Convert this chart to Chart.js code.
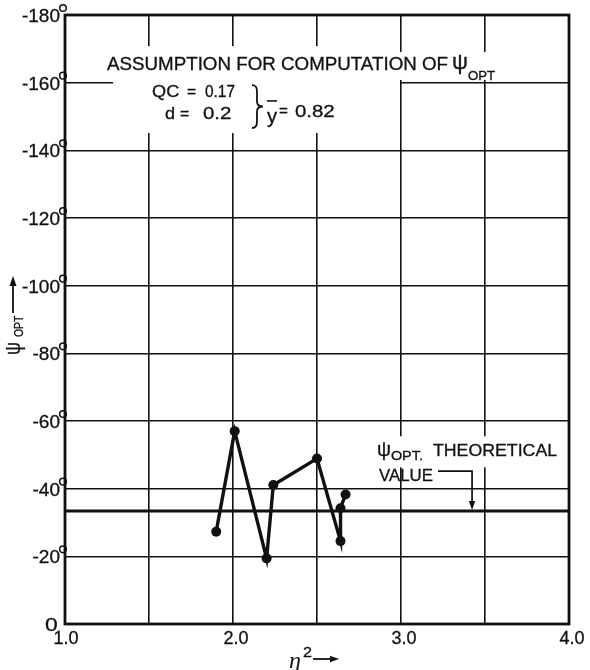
<!DOCTYPE html>
<html>
<head>
<meta charset="utf-8">
<script src="https://cdn.jsdelivr.net/npm/chart.js@4"></script>
<style>
  html, body { margin: 0; background: #fff; }
  canvas { display: block; }
</style>
</head>
<body>
<canvas id="psiChart" width="590" height="670"></canvas>
<script>
// measured points, eta^2 vs psi_opt (degrees)
const ETA_SQ  = [1.90, 2.01, 2.20, 2.24, 2.50, 2.64, 2.64, 2.67];
const PSI_OPT = [-27.3, -57.0, -19.4, -41.1, -48.9, -24.5, -34.2, -38.3];
// theoretical value of psi_opt
const PSI_THEORY = -33.4;

const X_TICKS = [1, 2, 3, 4];
const X_TICK_LABELS = ['1.0', '2.0', '3.0', '4.0'];
const Y_TICKS = [0, -20, -40, -60, -80, -100, -120, -140, -160, -180];

const FONT = '"Liberation Sans", Arial, sans-serif';
const INK = '#111';

// draw text so that its caps are centred on y; w is the wanted width,
// the glyphs get stretched or squeezed a little towards it
function txt(ctx, s, x, y, w, size, family) {
  ctx.font = size + 'px ' + (family || FONT);
  const m = ctx.measureText(s).width;
  let k = w ? w / m : 1;
  k = Math.min(1.2, Math.max(0.8, k));
  ctx.save();
  ctx.translate(x, y + size * 0.36);
  ctx.scale(k, 1);
  ctx.lineWidth = 0.3;
  ctx.fillText(s, 0, 0);
  ctx.strokeText(s, 0, 0);
  ctx.restore();
}

function arrowHead(ctx, x, y, dir, len, half) {
  // dir: angle in radians the arrow points to
  ctx.save();
  ctx.translate(x, y);
  ctx.rotate(dir);
  ctx.beginPath();
  ctx.moveTo(0, 0);
  ctx.lineTo(-len, -half);
  ctx.lineTo(-len, half);
  ctx.closePath();
  ctx.fill();
  ctx.restore();
}

const overlay = {
  id: 'overlay',
  // white patches where the lettering sits over the grid
  beforeDatasetsDraw(chart) {
    const { ctx, scales: { x, y } } = chart;
    const X = v => x.getPixelForValue(v), Y = v => y.getPixelForValue(v);
    const patches = [
      [1.286, 2.994, -170.8, -145.1],
      [2.994, 3.56, -169.1, -160.8],
      [2.83, 3.95, -55.5, -46.3]
    ];
    ctx.save();
    ctx.fillStyle = '#fff';
    patches.forEach(([x0, x1, y0, y1]) => {
      ctx.fillRect(X(x0), Y(y0), X(x1) - X(x0), Y(y1) - Y(y0));
    });
    ctx.restore();
  },
  afterDraw(chart) {
    const { ctx, chartArea: a, scales: { x, y } } = chart;
    const X = v => x.getPixelForValue(v), Y = v => y.getPixelForValue(v);
    const span = (s, x0, x1, yv, size) => txt(ctx, s, X(x0), Y(yv), X(x1) - X(x0), size);
    ctx.save();
    ctx.fillStyle = INK;
    ctx.strokeStyle = INK;

    // frame
    ctx.lineWidth = 2.8;
    ctx.strokeRect(a.left, a.top, a.right - a.left, a.bottom - a.top);

    // y tick labels with degree marks
    Y_TICKS.forEach(v => {
      const py = Y(v);
      const s = String(v);
      if (v === 0) {
        txt(ctx, s, 45, py, 13, 19);
        return;
      }
      ctx.font = '19px ' + FONT;
      const w = ctx.measureText(s).width;
      txt(ctx, s, 60 - w, py, w, 19);
      ctx.lineWidth = 1.5;
      ctx.beginPath();
      ctx.arc(63, py - 7, 3.3, 0, Math.PI * 2);
      ctx.stroke();
    });

    // x tick labels
    X_TICKS.forEach((v, i) => {
      const s = X_TICK_LABELS[i];
      ctx.font = '18px ' + FONT;
      const w = ctx.measureText(s).width;
      const cx = X(v) + (v === 1 ? 1 : 3);
      txt(ctx, s, cx - w / 2, a.bottom + 14, w, 18);
    });

    // x axis title: eta^2 ->
    ctx.font = 'italic 24px "Liberation Serif", serif';
    ctx.fillText('\u03b7', 289, 668);
    txt(ctx, '2', 303, 652, 9, 15);
    ctx.lineWidth = 1.8;
    ctx.beginPath();
    ctx.moveTo(313, 659);
    ctx.lineTo(331, 659);
    ctx.stroke();
    arrowHead(ctx, 339, 659, 0, 9, 3.2);

    // y axis title, rotated: psi_OPT with arrow upwards
    ctx.save();
    ctx.translate(14, 355);
    ctx.rotate(-Math.PI / 2);
    txt(ctx, '\u03c8', 0, -2, 13, 22);
    txt(ctx, 'OPT', 18, 4, 18, 13);
    ctx.lineWidth = 1.8;
    ctx.beginPath();
    ctx.moveTo(42, -1);
    ctx.lineTo(70, -1);
    ctx.stroke();
    arrowHead(ctx, 79, -1, 0, 10, 3.5);
    ctx.restore();

    // assumption block
    span('ASSUMPTION FOR COMPUTATION OF', 1.25, 3.28, -165.8, 18);
    span('\u03c8', 3.304, 3.399, -166.5, 22);
    span('OPT', 3.399, 3.56, -162.0, 12);
    span('QC', 1.518, 1.68, -157.5, 17);
    span('=', 1.726, 1.78, -157.5, 17);
    span('0.17', 1.833, 2.012, -157.5, 17);
    span('d', 1.595, 1.655, -151.0, 17);
    span('=', 1.685, 1.74, -151.0, 17);
    span('0.2', 1.821, 2.012, -151.0, 17);
    span('y', 2.202, 2.262, -150.3, 20);
    span('=', 2.274, 2.327, -152.0, 17);
    span('0.82', 2.369, 2.637, -151.6, 17);
    ctx.lineWidth = 1.6;
    ctx.beginPath();
    ctx.moveTo(X(2.202), Y(-154.6));
    ctx.lineTo(X(2.262), Y(-154.6));
    ctx.stroke();

    // curly brace joining QC and d
    const bx = X(2.113), bt = Y(-159.3), bb = Y(-146.6), bm = (bt + bb) / 2;
    ctx.lineWidth = 1.8;
    ctx.beginPath();
    ctx.moveTo(bx, bt);
    ctx.quadraticCurveTo(bx + 5, bt, bx + 5, bt + 6);
    ctx.lineTo(bx + 5, bm - 5);
    ctx.quadraticCurveTo(bx + 5, bm, bx + 11, bm);
    ctx.quadraticCurveTo(bx + 5, bm, bx + 5, bm + 5);
    ctx.lineTo(bx + 5, bb - 6);
    ctx.quadraticCurveTo(bx + 5, bb, bx, bb);
    ctx.stroke();

    // theoretical value note with leader
    span('\u03c8', 2.857, 2.94, -52.0, 21);
    span('OPT.', 2.94, 3.149, -49.7, 12);
    span('THEORETICAL', 3.19, 3.929, -51.4, 17);
    span('VALUE', 2.869, 3.19, -44.0, 17);
    ctx.lineWidth = 1.7;
    ctx.beginPath();
    ctx.moveTo(X(3.22), Y(-45.2));
    ctx.lineTo(X(3.423), Y(-45.2));
    ctx.lineTo(X(3.423), Y(PSI_THEORY) - 8);
    ctx.stroke();
    arrowHead(ctx, X(3.423), Y(PSI_THEORY) - 1, Math.PI / 2, 9, 3.2);

    ctx.restore();
  }
};

new Chart(document.getElementById('psiChart'), {
  type: 'scatter',
  data: {
    datasets: [
      {
        data: ETA_SQ.map((v, i) => ({ x: v, y: PSI_OPT[i] })),
        showLine: true,
        borderColor: INK,
        backgroundColor: INK,
        borderWidth: 3.4,
        pointRadius: 5,
        pointBorderWidth: 0,
        tension: 0
      },
      {
        data: [{ x: 1, y: PSI_THEORY }, { x: 4, y: PSI_THEORY }],
        showLine: true,
        borderColor: INK,
        borderWidth: 3.2,
        pointRadius: 0
      }
    ]
  },
  options: {
    responsive: false,
    devicePixelRatio: 1,
    animation: false,
    layout: { padding: { left: 65, right: 21, top: 15, bottom: 46 } },
    plugins: { legend: { display: false }, tooltip: { enabled: false } },
    scales: {
      x: {
        type: 'linear',
        min: 1, max: 4,
        ticks: { display: false, stepSize: 0.5 },
        grid: { color: INK, lineWidth: 1.6, drawTicks: false },
        border: { display: false }
      },
      y: {
        type: 'linear',
        min: -180, max: 0,
        reverse: true,
        ticks: { display: false, stepSize: 20 },
        grid: { color: INK, lineWidth: 1.6, drawTicks: false },
        border: { display: false }
      }
    }
  },
  plugins: [overlay]
});
</script>
</body>
</html>
